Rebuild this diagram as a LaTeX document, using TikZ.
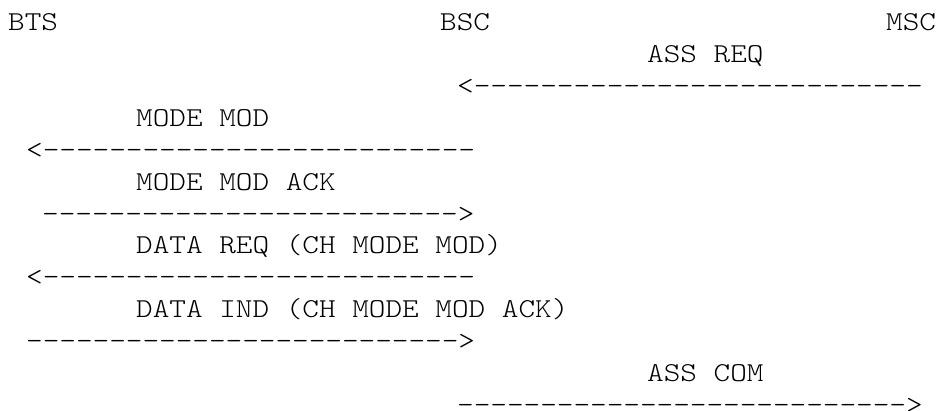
\documentclass[tikz,border=0pt]{standalone}
\usepackage{fontspec}
\setmonofont{Latin Modern Mono Light}
\usepackage{graphicx}
\usepackage{tikz}
\newcommand{\widemono}[1]{\scalebox{1.16}[1]{#1}}

\begin{document}
\begin{tikzpicture}[x=1pt, y=-1pt,
    msgline/.style={anchor=base west, inner sep=0pt, font=\ttfamily\fontsize{27.3}{32}\selectfont}]
  \fill[white] (0,0) rectangle (938,411);
  \useasboundingbox (0,0) rectangle (938,411);
  % entities
  \node[msgline] (bts) at (8,31) {\widemono{BTS}};
  \node[msgline] (bsc) at (440,31) {\widemono{BSC}};
  \node[msgline] (msc) at (886,31) {\widemono{MSC}};
  % MSC -> BSC
  \node[msgline] (assreq) at (647,62.85) {\widemono{ASS REQ}};
  \node[msgline] (assreqline) at (457,94.7) {\widemono{<---------------------------}};
  % BSC <-> BTS
  \node[msgline] (modemod) at (136,126.55) {\widemono{MODE MOD}};
  \node[msgline] (modemodline) at (26,158.4) {\widemono{<--------------------------}};
  \node[msgline] (modemodack) at (136,190.25) {\widemono{MODE MOD ACK}};
  \node[msgline] (modemodackline) at (42,222.1) {\widemono{------------------------->}};
  \node[msgline] (datareq) at (136,253.95) {\widemono{DATA REQ (CH MODE MOD)}};
  \node[msgline] (datareqline) at (26,285.8) {\widemono{<--------------------------}};
  \node[msgline] (dataind) at (136,317.65) {\widemono{DATA IND (CH MODE MOD ACK)}};
  \node[msgline] (dataindline) at (26,349.5) {\widemono{-------------------------->}};
  % BSC -> MSC
  \node[msgline] (asscom) at (647,381.35) {\widemono{ASS COM}};
  \node[msgline] (asscomline) at (457,413.2) {\widemono{--------------------------->}};
\end{tikzpicture}
\end{document}
